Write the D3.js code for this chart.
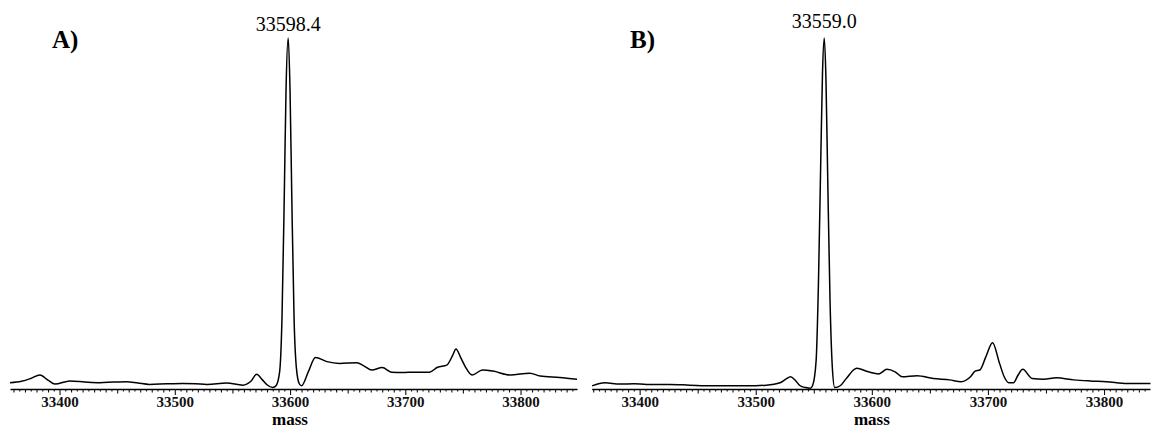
<!DOCTYPE html>
<html>
<head>
<meta charset="utf-8">
<script src="https://cdn.jsdelivr.net/npm/d3@7"></script>
<style>
  body { margin: 0; background: #fff; }
  svg { display: block; }
  .tick text { font-family: "Liberation Serif", "DejaVu Serif", serif; }
</style>
</head>
<body>
<div id="chart"></div>
<script>
// spectrum A (mass vs relative intensity)
var massA = [33357, 33367, 33375, 33383, 33390, 33396, 33409, 33422, 33435, 33447, 33458, 33468, 33478,
  33493, 33507, 33518, 33528, 33545, 33559, 33566, 33571, 33576, 33580, 33585, 33588, 33591, 33593,
  33595, 33596.5, 33598.4, 33600, 33601.5, 33603.5, 33605.5, 33608, 33610, 33616, 33622, 33632, 33643,
  33658, 33664, 33671, 33680, 33688, 33698, 33707, 33721, 33728, 33736, 33741, 33744, 33748, 33752,
  33758, 33767, 33776, 33791, 33808, 33817, 33834, 33849];
var intensityA = [1.8, 2.2, 3.0, 4.0, 2.5, 1.4, 2.3, 2.0, 1.8, 2.0, 2.1, 1.7, 1.3,
  1.5, 1.6, 1.5, 1.3, 1.7, 1.1, 2.2, 4.2, 2.6, 1.2, 0.4, 1.0, 5, 20,
  55, 85, 100, 85, 55, 20, 6, 1.5, 0.9, 5.0, 9.0, 7.8, 7.3,
  7.5, 6.6, 5.4, 6.1, 4.8, 4.7, 4.8, 4.8, 6.2, 6.8, 9.5, 11.4, 9.0, 6.4,
  4.0, 5.4, 5.1, 4.0, 4.5, 3.7, 3.3, 2.8];

// spectrum B
var massB = [33359, 33370, 33383, 33395, 33406, 33426, 33443, 33463, 33492, 33509, 33521, 33526, 33530,
  33534, 33538, 33543, 33547, 33549, 33552, 33554, 33556, 33557.5, 33559, 33560.5, 33562, 33564, 33566,
  33568, 33573, 33578, 33587, 33597, 33606, 33613, 33620, 33626, 33639, 33653, 33667, 33677, 33685,
  33689, 33693, 33698, 33704, 33710, 33714, 33718, 33722, 33726, 33730, 33738, 33748, 33759, 33774,
  33788, 33802, 33820, 33840];
var intensityB = [0.9, 1.8, 1.4, 1.5, 1.3, 1.3, 1.1, 0.9, 0.9, 1.1, 1.8, 2.8, 3.5,
  2.5, 1.0, 0.4, 0.2, 1, 8, 30, 65, 90, 100, 88, 60, 25, 6,
  0.4, 1.0, 3.0, 5.9, 4.9, 4.3, 5.6, 4.9, 3.5, 3.8, 3.0, 2.6, 2.1, 3.5,
  5.1, 5.4, 9.0, 13.2, 7.3, 3.5, 1.8, 1.8, 4.0, 5.6, 3.0, 2.8, 3.2, 2.6,
  2.3, 2.1, 1.6, 1.6];

var panelLabels = ["A)", "B)"];
var peakLabels = ["33598.4", "33559.0"];
var peakMasses = [33598.4, 33559.0];
var majorTicks = [33400, 33500, 33600, 33700, 33800];
var axisTitle = "mass";

var width = 1152, height = 429;
var svg = d3.select("#chart").append("svg")
  .attr("width", width)
  .attr("height", height);

var panels = [
  { mass: massA, inten: intensityA, domain: [33357, 33849], range: [10, 577], labelX: 52 },
  { mass: massB, inten: intensityB, domain: [33358.7, 33839.6], range: [591.7, 1150], labelX: 630 }
];

var axisY = 389;
var y = d3.scaleLinear().domain([0, 100]).range([axisY, 38]);
var serif = "Liberation Serif, DejaVu Serif, serif";

panels.forEach(function(p, i) {
  var x = d3.scaleLinear().domain(p.domain).range(p.range);
  var g = svg.append("g");

  // minor ticks every 5 units, longer every 10 and 50
  var minor = d3.range(Math.ceil(p.domain[0] / 5) * 5, p.domain[1], 5);
  [[function(v) { return v % 10 !== 0; }, 2.5],
   [function(v) { return v % 10 === 0 && v % 50 !== 0; }, 3.5],
   [function(v) { return v % 50 === 0 && v % 100 !== 0; }, 4.5]].forEach(function(t) {
    g.append("g")
      .attr("transform", "translate(0," + axisY + ")")
      .call(d3.axisBottom(x).tickValues(minor.filter(t[0]))
        .tickSize(t[1]).tickFormat("").tickSizeOuter(0))
      .call(function(a) { a.select(".domain").remove(); });
  });

  // major ticks with labels
  var ax = g.append("g")
    .attr("transform", "translate(0," + axisY + ")")
    .call(d3.axisBottom(x).tickValues(majorTicks).tickSize(6).tickSizeOuter(0).tickPadding(1.2)
      .tickFormat(d3.format("d")));
  ax.select(".domain").attr("stroke", "#000").attr("stroke-width", 1.6);
  ax.selectAll(".tick text")
    .attr("font-size", 15)
    .attr("font-weight", "bold")
    .attr("fill", "#111");
  g.selectAll(".tick line").attr("stroke", "#111").attr("stroke-width", 1.1);

  // spectrum trace
  var pts = p.mass.map(function(m, k) { return [m, p.inten[k]]; });
  var line = d3.line()
    .x(function(d) { return x(d[0]); })
    .y(function(d) { return y(d[1]); })
    .curve(d3.curveMonotoneX);
  g.append("path")
    .datum(pts)
    .attr("d", line)
    .attr("fill", "none")
    .attr("stroke", "#000")
    .attr("stroke-width", 1.5);

  // axis title
  g.append("text")
    .attr("x", x(33600))
    .attr("y", 425.2)
    .attr("text-anchor", "middle")
    .attr("font-family", serif)
    .attr("font-size", 17)
    .attr("font-weight", "bold")
    .text(axisTitle);

  // panel label
  g.append("text")
    .attr("x", p.labelX)
    .attr("y", 48)
    .attr("font-family", serif)
    .attr("font-size", 25)
    .attr("font-weight", "bold")
    .text(panelLabels[i]);

  // peak label
  g.append("text")
    .attr("x", x(peakMasses[i]))
    .attr("y", i === 0 ? 31 : 28)
    .attr("text-anchor", "middle")
    .attr("font-family", serif)
    .attr("font-size", 20)
    .text(peakLabels[i]);
});
</script>
</body>
</html>
